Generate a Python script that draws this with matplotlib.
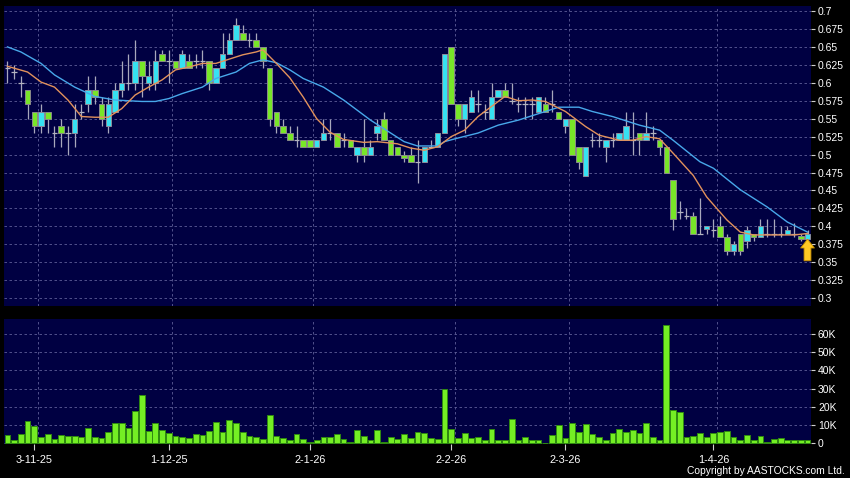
import numpy as np
import matplotlib.pyplot as plt

plt.rcParams['font.family'] = ['Liberation Sans', 'DejaVu Sans']

# daily prices (one entry per trading day)
opens = [0.62, 0.615, 0.60, 0.59, 0.56, 0.54, 0.56, 0.53, 0.54, 0.53,
         0.53, 0.56, 0.57, 0.59, 0.57, 0.54, 0.56, 0.59, 0.60, 0.60,
         0.63, 0.60, 0.60, 0.64, 0.63, 0.63, 0.62, 0.63, 0.63, 0.63,
         0.63, 0.60, 0.62, 0.64, 0.66, 0.67, 0.66, 0.66, 0.65, 0.62,
         0.56, 0.54, 0.53, 0.52, 0.52, 0.52, 0.51, 0.52, 0.53, 0.53,
         0.52, 0.52, 0.50, 0.51, 0.50, 0.53, 0.55, 0.52, 0.51, 0.50,
         0.50, 0.49, 0.49, 0.51, 0.51, 0.53, 0.65, 0.57, 0.55, 0.56,
         0.57, 0.56, 0.55, 0.58, 0.59, 0.575, 0.57, 0.57, 0.57, 0.56,
         0.57, 0.57, 0.56, 0.54, 0.55, 0.51, 0.47, 0.52, 0.52, 0.51,
         0.52, 0.52, 0.52, 0.52, 0.53, 0.52, 0.53, 0.52, 0.51, 0.465,
         0.42, 0.415, 0.415, 0.39, 0.396, 0.395, 0.40, 0.385, 0.365, 0.39,
         0.38, 0.39, 0.385, 0.39, 0.39, 0.39, 0.39, 0.39, 0.387, 0.382]
highs = [0.63, 0.625, 0.61, 0.59, 0.56, 0.57, 0.56, 0.54, 0.55, 0.54,
         0.57, 0.57, 0.61, 0.61, 0.58, 0.58, 0.60, 0.63, 0.64, 0.66,
         0.63, 0.63, 0.645, 0.645, 0.645, 0.63, 0.645, 0.64, 0.64, 0.645,
         0.63, 0.62, 0.67, 0.67, 0.69, 0.68, 0.67, 0.67, 0.65, 0.62,
         0.56, 0.55, 0.54, 0.54, 0.52, 0.52, 0.52, 0.55, 0.55, 0.53,
         0.53, 0.52, 0.51, 0.55, 0.52, 0.55, 0.56, 0.52, 0.51, 0.505,
         0.51, 0.52, 0.51, 0.52, 0.53, 0.64, 0.65, 0.57, 0.57, 0.59,
         0.59, 0.57, 0.60, 0.59, 0.60, 0.60, 0.58, 0.58, 0.58, 0.58,
         0.58, 0.59, 0.56, 0.55, 0.55, 0.51, 0.51, 0.53, 0.53, 0.52,
         0.53, 0.53, 0.56, 0.56, 0.53, 0.56, 0.54, 0.52, 0.51, 0.465,
         0.435, 0.425, 0.42, 0.44, 0.40, 0.41, 0.415, 0.39, 0.38, 0.39,
         0.40, 0.39, 0.41, 0.41, 0.41, 0.40, 0.40, 0.405, 0.39, 0.395]
lows = [0.60, 0.605, 0.58, 0.55, 0.53, 0.53, 0.53, 0.51, 0.51, 0.50,
        0.51, 0.55, 0.56, 0.57, 0.54, 0.53, 0.56, 0.58, 0.59, 0.59,
        0.58, 0.59, 0.59, 0.63, 0.60, 0.62, 0.62, 0.62, 0.62, 0.62,
        0.59, 0.60, 0.62, 0.64, 0.66, 0.66, 0.65, 0.65, 0.62, 0.54,
        0.53, 0.53, 0.52, 0.51, 0.51, 0.51, 0.51, 0.52, 0.52, 0.51,
        0.51, 0.51, 0.49, 0.49, 0.50, 0.52, 0.52, 0.50, 0.50, 0.49,
        0.49, 0.46, 0.49, 0.51, 0.51, 0.53, 0.57, 0.54, 0.53, 0.56,
        0.56, 0.55, 0.55, 0.58, 0.58, 0.57, 0.56, 0.55, 0.55, 0.56,
        0.56, 0.56, 0.55, 0.53, 0.50, 0.48, 0.47, 0.51, 0.51, 0.49,
        0.51, 0.52, 0.52, 0.50, 0.50, 0.52, 0.52, 0.50, 0.475, 0.395,
        0.41, 0.41, 0.39, 0.39, 0.39, 0.385, 0.385, 0.36, 0.36, 0.36,
        0.37, 0.38, 0.385, 0.385, 0.385, 0.385, 0.39, 0.385, 0.38, 0.38]
closes = [0.62, 0.615, 0.60, 0.57, 0.54, 0.56, 0.55, 0.53, 0.53, 0.53,
          0.55, 0.56, 0.59, 0.58, 0.55, 0.57, 0.59, 0.60, 0.60, 0.63,
          0.61, 0.61, 0.63, 0.63, 0.63, 0.62, 0.64, 0.62, 0.63, 0.63,
          0.60, 0.62, 0.64, 0.66, 0.68, 0.66, 0.66, 0.65, 0.63, 0.55,
          0.54, 0.53, 0.52, 0.52, 0.51, 0.51, 0.52, 0.53, 0.53, 0.51,
          0.52, 0.51, 0.51, 0.50, 0.51, 0.54, 0.52, 0.50, 0.50, 0.495,
          0.49, 0.49, 0.51, 0.51, 0.53, 0.64, 0.57, 0.55, 0.57, 0.58,
          0.57, 0.56, 0.58, 0.59, 0.58, 0.575, 0.57, 0.57, 0.57, 0.58,
          0.56, 0.57, 0.55, 0.55, 0.50, 0.49, 0.51, 0.52, 0.52, 0.52,
          0.52, 0.53, 0.54, 0.52, 0.52, 0.53, 0.53, 0.51, 0.475, 0.41,
          0.42, 0.415, 0.39, 0.39, 0.40, 0.395, 0.385, 0.365, 0.375, 0.365,
          0.395, 0.385, 0.40, 0.39, 0.39, 0.39, 0.395, 0.39, 0.382, 0.39]

# volume in thousands of shares
volume_k = [4.6, 2.0, 5.3, 12.3, 9.7, 3.5, 5.1, 2.6, 4.4, 4.0,
            4.0, 3.5, 8.2, 3.7, 2.7, 6.4, 11.2, 11.2, 8.4, 17.6,
            26.6, 6.6, 11.2, 7.3, 5.5, 4.0, 3.3, 2.9, 4.9, 4.8,
            6.8, 11.9, 6.4, 12.8, 11.0, 6.0, 4.2, 3.3, 2.4, 15.6,
            3.8, 2.9, 1.8, 5.1, 2.6, 0.5, 1.8, 3.3, 3.7, 5.3,
            2.6, 0.7, 7.1, 3.8, 2.0, 7.3, 0.7, 3.3, 2.4, 4.9,
            2.9, 6.2, 5.5, 2.8, 2.4, 29.9, 7.7, 2.8, 5.7, 2.9,
            3.5, 2.0, 7.9, 2.0, 1.8, 13.6, 2.0, 3.3, 1.7, 1.7,
            0.4, 4.8, 9.9, 2.9, 11.4, 6.4, 10.5, 5.0, 3.5, 1.8,
            5.5, 8.1, 6.2, 7.2, 5.5, 11.2, 3.3, 1.8, 65.0, 18.5,
            17.2, 3.7, 4.2, 5.5, 3.5, 5.7, 6.2, 6.6, 3.5, 2.0,
            4.4, 1.7, 4.2, 0.6, 2.2, 2.8, 1.8, 2.0, 1.8, 1.7]

# moving average lines as drawn on the chart (sampled by day index)
ma_short_idx = [0, 3, 5, 7, 9, 11, 13, 15, 17, 19, 21, 23, 25, 27, 29, 31, 33,
                35, 37, 38, 40, 42, 44, 46, 48, 50, 53, 55, 58, 60, 62, 64, 66,
                68, 70, 72, 74, 76, 78, 80, 83, 86, 88, 91, 93, 95, 97, 99, 102,
                104, 107, 109, 111, 114, 117, 119]
ma_short = [0.623, 0.615, 0.601, 0.594, 0.576, 0.553, 0.552, 0.552, 0.564,
            0.583, 0.594, 0.604, 0.618, 0.622, 0.627, 0.627, 0.633, 0.639,
            0.643, 0.646, 0.627, 0.607, 0.58, 0.55, 0.531, 0.521, 0.517,
            0.518, 0.515, 0.509, 0.506, 0.511, 0.525, 0.534, 0.553, 0.567,
            0.581, 0.575, 0.576, 0.574, 0.56, 0.539, 0.527, 0.520, 0.520,
            0.525, 0.522, 0.502, 0.471, 0.441, 0.409, 0.392, 0.388, 0.388,
            0.388, 0.39]
ma_long_idx = [0, 2, 5, 7, 10, 13, 16, 20, 22, 24, 26, 29, 31, 34, 36, 38, 40,
               42, 44, 47, 50, 54, 57, 59, 61, 64, 65, 67, 70, 73, 76, 79, 82,
               85, 87, 90, 94, 97, 99, 103, 105, 109, 113, 116, 119]
ma_long = [0.650, 0.643, 0.627, 0.611, 0.594, 0.581, 0.576, 0.574, 0.574,
           0.578, 0.585, 0.594, 0.606, 0.615, 0.627, 0.632, 0.628, 0.618,
           0.606, 0.594, 0.576, 0.548, 0.530, 0.518, 0.512, 0.512, 0.518,
           0.523, 0.530, 0.541, 0.548, 0.557, 0.566, 0.566, 0.560, 0.553,
           0.541, 0.534, 0.520, 0.490, 0.481, 0.451, 0.427, 0.406, 0.392]

date_labels = ['3-11-25', '1-12-25', '2-1-26', '2-2-26', '2-3-26', '1-4-26']
date_idx = [4, 24, 45, 66, 83, 105]

price_ticks = [0.3, 0.325, 0.35, 0.375, 0.4, 0.425, 0.45, 0.475, 0.5, 0.525,
               0.55, 0.575, 0.6, 0.625, 0.65, 0.675, 0.7]
vol_ticks = [0, 10, 20, 30, 40, 50, 60]

# colours
bg = '#000042'
up_col = '#36e2f2'
down_col = '#78e628'
grid_col = '#5e5e98'

fig = plt.figure(figsize=(8.5, 4.78), dpi=100, facecolor='black')
ax = fig.add_axes([4 / 850, 1 - 306 / 478, 807 / 850, 300 / 478])
axv = fig.add_axes([4 / 850, 1 - 444 / 478, 807 / 850, 125 / 478])

o = np.array(opens)
h = np.array(highs)
l = np.array(lows)
c = np.array(closes)
x = np.arange(len(c))
up = c > o
down = c < o
flat = c == o

for a in (ax, axv):
    a.set_facecolor(bg)
    for s in a.spines.values():
        s.set_visible(False)
    a.set_xlim(-0.51, 119.52)
    a.yaxis.tick_right()
    a.tick_params(axis='y', colors='#d0d0d0', labelcolor='white', length=3,
                  width=0.8, pad=2, labelsize=7.5)
    a.set_xticks([d + 0.5 for d in date_idx], minor=True)
    a.grid(True, which='minor', axis='x', color=grid_col, lw=0.6,
           linestyle=(0, (3, 3)))
    a.grid(True, which='major', axis='y', color=grid_col, lw=0.6,
           linestyle=(0, (3, 3)))
    a.tick_params(axis='x', which='minor', length=0)
    a.set_axisbelow(True)

# price panel
ax.vlines(x, l, h, color='#a8a8bc', lw=0.9, zorder=2)
ax.bar(x[up], (c - o)[up], bottom=o[up], width=0.82, color=up_col,
       edgecolor='#8c8c9c', lw=0.7, zorder=3)
ax.bar(x[down], (o - c)[down], bottom=c[down], width=0.82, color=down_col,
       edgecolor='#8a8a8a', lw=0.7, zorder=3)
ax.hlines(c[flat], x[flat] - 0.42, x[flat] + 0.42, color='#b4b4c0', lw=0.9,
          zorder=3)
ax.plot(ma_long_idx, ma_long, color='#48a8ea', lw=1.0, zorder=4)
ax.plot(ma_short_idx, ma_short, color='#e2925c', lw=1.0, zorder=4)

ax.annotate('', xy=(x[-1], 0.382), xytext=(x[-1], 0.352),
            arrowprops=dict(arrowstyle='simple,head_length=0.7,head_width=1.1,tail_width=0.55',
                            mutation_scale=9, fc='#ffc824', ec='#c89000', lw=0.6,
                            shrinkA=0, shrinkB=0), zorder=5)

ax.set_ylim(0.289, 0.707)
ax.set_yticks(price_ticks)
ax.set_yticklabels([f'{v:.3f}'.rstrip('0').rstrip('.') for v in price_ticks])
ax.set_xticks([])

# volume panel
axv.bar(x, volume_k, width=0.86, color='#74ee24', edgecolor='#2f8a10', lw=0.7,
        zorder=3)
axv.set_ylim(-0.4, 68.3)
axv.set_yticks(vol_ticks)
axv.set_yticklabels(['0' if v == 0 else f'{v}K' for v in vol_ticks])
axv.set_xticks(date_idx)
axv.set_xticklabels(date_labels)
axv.tick_params(axis='x', which='major', colors='#d0d0d0', labelcolor='white',
                length=4, width=0.8, pad=4, labelsize=7.8)

fig.text(845 / 850, 1 - 471 / 478, 'Copyright by AASTOCKS.com Ltd.',
         ha='right', va='center', color='white', fontsize=7.4)

fig.savefig('out.png', dpi=100, facecolor='black')
